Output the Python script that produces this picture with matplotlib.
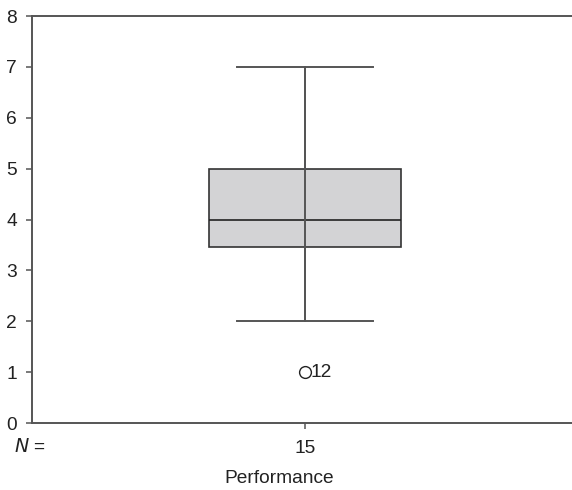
import matplotlib
matplotlib.use("Agg")
import matplotlib.pyplot as plt

# Summary statistics for the Performance variable
group = "Performance"
n_cases = 15
q1 = 3.45
median = 4.0
q3 = 5.0
whisker_low = 2.0
whisker_high = 7.0
outliers = [1.0]
outlier_ids = ["12"]
y_ticks = [0, 1, 2, 3, 4, 5, 6, 7, 8]

plt.rcParams["font.family"] = ["Liberation Sans", "DejaVu Sans"]
fs = 13.8

fig = plt.figure(figsize=(5.72, 4.9), dpi=100)
ax = fig.add_axes([32 / 572, 1 - 423 / 490, 546 / 572, (423 - 16) / 490])

spine_col = "#555555"
line_col = "#333333"

stats = [dict(label=str(n_cases), med=median, q1=q1, q3=q3,
              whislo=whisker_low, whishi=whisker_high, fliers=outliers)]
ax.bxp(stats, positions=[1], widths=0.703, patch_artist=True,
       showfliers=True,
       boxprops=dict(facecolor="#d3d3d5", edgecolor=line_col, linewidth=1.2),
       medianprops=dict(color="#222222", linewidth=1.2),
       whiskerprops=dict(color=spine_col, linewidth=1.4),
       capprops=dict(color=spine_col, linewidth=1.4),
       capwidths=0.5,
       flierprops=dict(marker="o", markersize=8.5, markerfacecolor="none",
                       markeredgecolor="#222222", markeredgewidth=1.0))

# Whisker line runs through the box
ax.plot([1, 1], [whisker_low, whisker_high], color=spine_col, linewidth=1.4,
        zorder=5)

for val, lab in zip(outliers, outlier_ids):
    ax.annotate(lab, (1, val), xytext=(4, 0), textcoords="offset points",
                va="center", ha="left", fontsize=fs, color="#222222")

ax.set_xlim(0, 2)
ax.set_ylim(0, 8)
ax.set_yticks(y_ticks)
ax.set_xticks([1])
ax.set_xticklabels([str(n_cases)])

ax.spines["right"].set_visible(False)
for side in ["left", "top", "bottom"]:
    ax.spines[side].set_color(spine_col)
    ax.spines[side].set_linewidth(1.4)

ax.tick_params(axis="y", length=4, width=1.1, color=spine_col, pad=7,
               labelsize=fs, labelcolor="#222222")
ax.tick_params(axis="x", length=4, width=1.1, color=spine_col, pad=8,
               labelsize=fs, labelcolor="#222222")

ax.text(14, 490 - 446.5, "$N$ =", transform=None, fontsize=fs,
        color="#222222", va="center", ha="left")
fig.text(279 / 572, 1 - 478 / 490, group, fontsize=fs, color="#222222",
         ha="center", va="center")

fig.savefig("out.png", dpi=100)
